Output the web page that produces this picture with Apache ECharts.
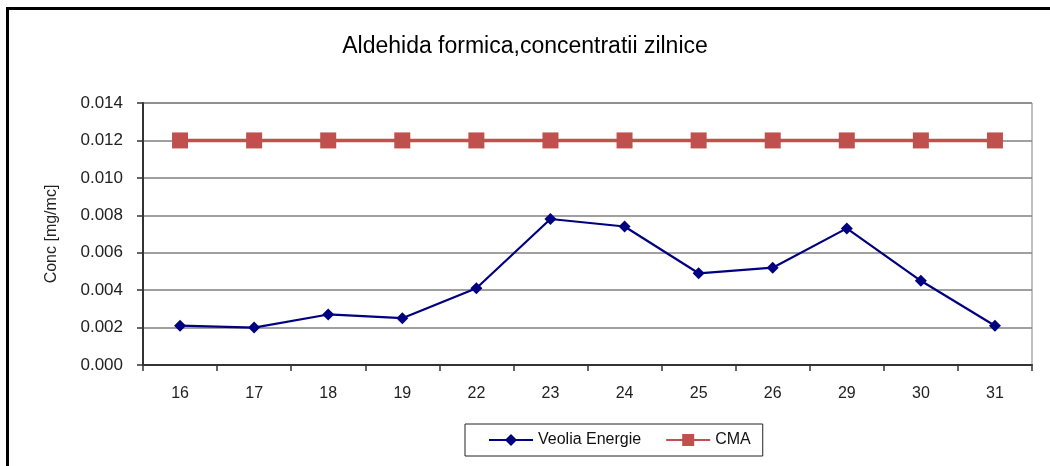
<!DOCTYPE html>
<html>
<head>
<meta charset="utf-8">
<script src="https://cdn.jsdelivr.net/npm/echarts@6/dist/echarts.min.js"></script>
<style>html,body{margin:0;padding:0;background:#fff}#c{width:1050px;height:466px}</style>
</head>
<body>
<div id="c"></div>
<script>
const categories = ['16','17','18','19','22','23','24','25','26','29','30','31'];
const veolia = [0.0021,0.0020,0.0027,0.0025,0.0041,0.0078,0.0074,0.0049,0.0052,0.0073,0.0045,0.0021];
const cma = [0.012,0.012,0.012,0.012,0.012,0.012,0.012,0.012,0.012,0.012,0.012,0.012];
const yTicks = {min:0, max:0.014, interval:0.002};
const font = 'Liberation Sans, Arial, sans-serif';

const chart = echarts.init(document.getElementById('c'), null, {renderer:'canvas'});
chart.setOption({
  animation:false,
  backgroundColor:'#fff',
  textStyle:{fontFamily:font},
  title:{
    text:'Aldehida formica,concentratii zilnice',
    left:'center', top:30,
    textStyle:{fontFamily:font, fontSize:23, fontWeight:'normal', color:'#000'}
  },
  graphic:[{
    type:'rect', silent:true,
    shape:{x:7.5, y:8.5, width:1100, height:500},
    style:{fill:'none', stroke:'#000', lineWidth:3}
  }],
  grid:{left:143, right:18, top:103, bottom:101, show:true, borderColor:'#808080', borderWidth:1, containLabel:false},
  legend:{
    left:465, top:424,
    padding:[8,12,8,23],
    borderColor:'#222', borderWidth:1,
    itemWidth:44, itemHeight:15, itemGap:24,
    textStyle:{fontFamily:font, fontSize:16, color:'#111'},
    data:['Veolia Energie','CMA']
  },
  xAxis:{
    type:'category', data:categories, boundaryGap:true,
    axisLine:{lineStyle:{color:'#333', width:2}},
    axisTick:{show:true, length:6, alignWithLabel:false, lineStyle:{color:'#333', width:1.5}},
    axisLabel:{fontFamily:font, fontSize:16, color:'#222', margin:21},
    splitLine:{show:false}
  },
  yAxis:{
    type:'value', min:yTicks.min, max:yTicks.max, interval:yTicks.interval,
    name:'Conc [mg/mc]', nameLocation:'middle', nameGap:83, nameRotate:90,
    nameTextStyle:{fontFamily:font, fontSize:16, color:'#222'},
    axisLine:{show:true, lineStyle:{color:'#333', width:2}},
    axisTick:{show:true, length:6, lineStyle:{color:'#333', width:1.5}},
    axisLabel:{fontFamily:font, fontSize:17, color:'#222', margin:20, formatter:v=>v.toFixed(3)},
    splitLine:{show:true, lineStyle:{color:'#808080', width:1.5}}
  },
  series:[
    {
      name:'Veolia Energie', type:'line', data:veolia,
      symbol:'diamond', symbolSize:12,
      lineStyle:{color:'#000080', width:2.2},
      itemStyle:{color:'#000080'}
    },
    {
      name:'CMA', type:'line', data:cma,
      symbol:'rect', symbolSize:16,
      lineStyle:{color:'#C0504D', width:3.5},
      itemStyle:{color:'#C0504D'}
    }
  ]
});
</script>
</body>
</html>
